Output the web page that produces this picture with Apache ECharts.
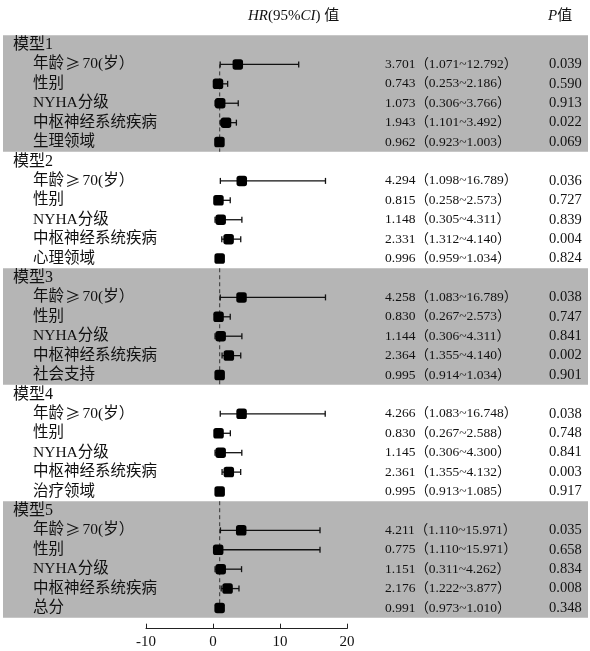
<!DOCTYPE html>
<html>
<head>
<meta charset="utf-8">
<script src="https://cdn.jsdelivr.net/npm/echarts@6/dist/echarts.min.js"></script>
<style>
  html, body { margin: 0; padding: 0; background: #fff; }
  #chart { width: 590px; height: 651px; }
</style>
</head>
<body>
<div id="chart"></div>
<script>
// Model names and the covariates listed under each model
const models = ['模型1', '模型2', '模型3', '模型4', '模型5'];
const commonVars = ['年龄≥70(岁）', '性别', 'NYHA分级', '中枢神经系统疾病'];
const domainVars = ['生理领域', '心理领域', '社会支持', '治疗领域', '总分'];

// Hazard ratios, 95% CI bounds and P values, one array per model
const hr1 = [3.701, 0.743, 1.073, 1.943, 0.962];
const lo1 = [1.071, 0.253, 0.306, 1.101, 0.923];
const hi1 = [12.792, 2.186, 3.766, 3.492, 1.003];
const p1 = ['0.039', '0.590', '0.913', '0.022', '0.069'];

const hr2 = [4.294, 0.815, 1.148, 2.331, 0.996];
const lo2 = [1.098, 0.258, 0.305, 1.312, 0.959];
const hi2 = [16.789, 2.573, 4.311, 4.140, 1.034];
const p2 = ['0.036', '0.727', '0.839', '0.004', '0.824'];

const hr3 = [4.258, 0.830, 1.144, 2.364, 0.995];
const lo3 = [1.083, 0.267, 0.306, 1.355, 0.914];
const hi3 = [16.789, 2.573, 4.311, 4.140, 1.034];
const p3 = ['0.038', '0.747', '0.841', '0.002', '0.901'];

const hr4 = [4.266, 0.830, 1.145, 2.361, 0.995];
const lo4 = [1.083, 0.267, 0.306, 1.355, 0.913];
const hi4 = [16.748, 2.588, 4.300, 4.132, 1.085];
const p4 = ['0.038', '0.748', '0.841', '0.003', '0.917'];

const hr5 = [4.211, 0.775, 1.151, 2.176, 0.991];
const lo5 = [1.110, 1.110, 0.311, 1.222, 0.973];
const hi5 = [15.971, 15.971, 4.262, 3.877, 1.010];
const p5 = ['0.035', '0.658', '0.834', '0.008', '0.348'];

// Axis range and ticks of the HR scale
const xMin = -10, xMax = 20, xStep = 10;
const refLine = 1;

const hrs = [hr1, hr2, hr3, hr4, hr5];
const los = [lo1, lo2, lo3, lo4, lo5];
const his = [hi1, hi2, hi3, hi4, hi5];
const ps = [p1, p2, p3, p4, p5];

// Rich-text markup for a covariate name; the ≥ sign is set in the CJK face
function nameMarkup(v) {
  const k = v.indexOf('≥');
  if (k < 0) return '{v|' + v + '}';
  return '{v|' + v.slice(0, k) + '}{g|≥}{w|' + v.slice(k + 1) + '}';
}

// Build one row per model header plus one per covariate
const rowIds = [], rowName = [], rowValue = [], rowP = [];
const points = [], bars = [];
models.forEach((m, mi) => {
  rowIds.push('r' + rowIds.length); rowName.push('{h|' + m + '}'); rowValue.push(''); rowP.push('');
  const vars = commonVars.concat([domainVars[mi]]);
  vars.forEach((v, vi) => {
    const idx = rowIds.length;
    rowIds.push('r' + idx);
    rowName.push(nameMarkup(v));
    rowValue.push(hrs[mi][vi].toFixed(3) + '（' + los[mi][vi].toFixed(3) + '~' + his[mi][vi].toFixed(3) + '）');
    rowP.push(ps[mi][vi]);
    points.push([hrs[mi][vi], idx]);
    bars.push([los[mi][vi], his[mi][vi], idx]);
  });
});

const serif = "'Liberation Serif', 'Times New Roman', 'Noto Sans CJK SC', serif";
const cjk = "'Noto Sans CJK SC', sans-serif";
const chart = echarts.init(document.getElementById('chart'), null, { renderer: 'canvas' });

const catAxis = (position, margin, formatter, size, extra) => Object.assign({
  type: 'category', data: rowIds, inverse: true, position: position, z: 10,
  axisLine: { show: false }, axisTick: { show: false }, splitLine: { show: false },
  axisLabel: {
    align: 'left', margin: margin, color: '#111', fontFamily: serif, fontSize: size,
    formatter: formatter
  }
}, extra || {});

chart.setOption({
  animation: false,
  backgroundColor: '#fff',
  grid: { left: 146, right: 243, top: 35.3, bottom: 33.3, containLabel: false },
  xAxis: {
    type: 'value', min: xMin, max: xMax, interval: xStep, offset: 11, z: 10,
    axisLine: { show: true, lineStyle: { color: '#222', width: 1 } },
    axisTick: { show: true, inside: true, length: 5, lineStyle: { color: '#222' } },
    splitLine: { show: false },
    axisLabel: { color: '#111', fontFamily: serif, fontSize: 15, margin: 6 }
  },
  yAxis: [
    catAxis('left', 133, (val, i) => rowName[i], 15.5, {
      axisLabel: {
        align: 'left', margin: 133, color: '#111', fontFamily: serif,
        formatter: (val, i) => rowName[i],
        rich: {
          h: { fontSize: 16, fontFamily: serif, color: '#111' },
          v: { fontSize: 15.5, fontFamily: serif, color: '#111', padding: [0, 0, 0, 20] },
          g: { fontSize: 15.5, fontFamily: cjk, color: '#111', padding: [0, 2, 0, 1] },
          w: { fontSize: 15.5, fontFamily: serif, color: '#111' }
        }
      }
    }),
    catAxis('right', 38, (val, i) => rowValue[i], 13.5),
    catAxis('right', 202, (val, i) => rowP[i], 14.5, { offset: 0 })
  ],
  graphic: [
    {
      type: 'text', left: 248, top: 9,
      style: {
        text: '{i|HR}{n|(95%}{i|CI}{n|)}{c| 值}',
        rich: {
          i: { fontFamily: serif, fontStyle: 'italic', fontSize: 15, fill: '#111' },
          n: { fontFamily: serif, fontSize: 15, fill: '#111' },
          c: { fontFamily: serif, fontSize: 15, fill: '#111' }
        }
      }
    },
    {
      type: 'text', left: 548, top: 9,
      style: {
        text: '{i|P}{c|值}',
        rich: {
          i: { fontFamily: serif, fontStyle: 'italic', fontSize: 15, fill: '#111' },
          c: { fontFamily: serif, fontSize: 15, fill: '#111' }
        }
      }
    }
  ],
  series: [
    {
      // shaded model blocks with the dashed HR = 1 reference inside them
      type: 'custom', z: 0, silent: true,
      data: models.map((m, i) => [i]),
      renderItem: (params, api) => {
        const mi = api.value(0);
        if (mi % 2 === 1) return { type: 'group', children: [] };
        const h = api.size([0, 1])[1];
        const first = mi * 6, last = mi * 6 + 5;
        const top = api.coord([0, first])[1] - h / 2;
        const bottom = api.coord([0, last])[1] + h / 2;
        const x1 = api.coord([refLine, 0])[0];
        const lineTop = mi === 0 ? api.coord([0, 1])[1] : top;
        const lineBottom = mi === models.length - 1 ? api.coord([0, rowIds.length - 1])[1] : bottom;
        return {
          type: 'group',
          children: [
            { type: 'rect', shape: { x: 3, y: top, width: api.getWidth() - 5, height: bottom - top },
              style: { fill: '#b5b5b5' } },
            { type: 'line', shape: { x1: x1, y1: lineTop, x2: x1, y2: lineBottom },
              style: { stroke: '#333', lineWidth: 1, lineDash: [4, 3] } }
          ]
        };
      }
    },
    {
      // confidence interval whiskers with end caps
      type: 'custom', z: 3, silent: true,
      data: bars,
      encode: { x: [0, 1], y: 2 },
      renderItem: (params, api) => {
        const a = api.coord([api.value(0), api.value(2)]);
        const b = api.coord([api.value(1), api.value(2)]);
        const cap = 3;
        const st = { stroke: '#111', lineWidth: 1.3 };
        return {
          type: 'group',
          children: [
            { type: 'line', shape: { x1: a[0], y1: a[1], x2: b[0], y2: b[1] }, style: st },
            { type: 'line', shape: { x1: a[0], y1: a[1] - cap, x2: a[0], y2: a[1] + cap }, style: st },
            { type: 'line', shape: { x1: b[0], y1: b[1] - cap, x2: b[0], y2: b[1] + cap }, style: st }
          ]
        };
      }
    },
    {
      // point estimates
      type: 'scatter', z: 4, silent: true,
      data: points,
      symbol: 'roundRect', symbolSize: 10.5,
      itemStyle: { color: '#000', opacity: 1 }
    }
  ]
});
</script>
</body>
</html>
